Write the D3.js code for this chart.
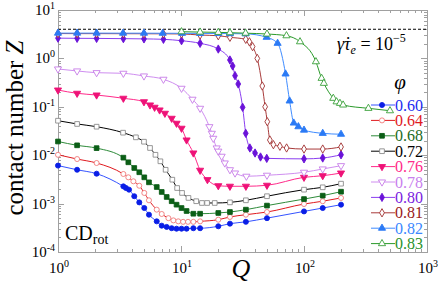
<!DOCTYPE html>
<html>
<head>
<meta charset="utf-8">
<script src="https://cdn.jsdelivr.net/npm/d3@7"></script>
<style>
  body { margin: 0; background: #fff; }
  svg { display: block; }
  text { font-family: "Liberation Serif", "DejaVu Serif", serif; }
</style>
</head>
<body>
<div id="chart"></div>
<script>
// values (Q = shear, Z = contact number)
var phiLabels = ["0.60", "0.64", "0.68", "0.72", "0.76", "0.78", "0.80", "0.81", "0.82", "0.83"];

var q060 = [1, 1.43, 2.06, 3.4, 3.57, 3.78, 4.17, 4.58, 5.03, 5.49, 6.35, 6.97, 7.65, 8.4, 9.2, 10.1, 11.1, 12.6, 14.3, 20.1, 25, 33.7, 50, 100, 142, 200];
var z060 = [0.0061, 0.0050, 0.00415, 0.00227, 0.0021, 0.00194, 0.00142, 0.00106, 0.00081, 0.00059, 0.00043, 0.00035, 0.00033, 0.00031, 0.000303, 0.000303, 0.000303, 0.00031, 0.00031, 0.00034, 0.000385, 0.00042, 0.0005, 0.00069, 0.00081, 0.00095];

var q064 = [1, 1.43, 2.06, 3.4, 3.73, 4.1, 4.58, 5.03, 5.49, 6.35, 6.97, 7.9, 8.67, 9.5, 10.4, 11.4, 12.6, 14.3, 20.1, 25, 33.7, 50, 100, 142, 200];
var z064 = [0.0102, 0.00833, 0.0069, 0.00409, 0.00349, 0.00289, 0.00234, 0.00166, 0.00117, 0.00075, 0.00061, 0.0005, 0.00045, 0.00043, 0.00042, 0.00042, 0.00042, 0.00043, 0.000465, 0.00053, 0.00059, 0.00067, 0.00098, 0.00112, 0.00131];

var q068 = [1, 1.43, 2.06, 3.4, 3.73, 4.17, 4.58, 5.03, 5.49, 6.35, 6.97, 7.65, 8.4, 9.2, 10.1, 11.1, 12.6, 14.3, 20.1, 25, 33.7, 50, 100, 142, 200];
var z068 = [0.0192, 0.016, 0.014, 0.0089, 0.00713, 0.00544, 0.00444, 0.00349, 0.00275, 0.0022, 0.00174, 0.00137, 0.00112, 0.00095, 0.00081, 0.000703, 0.000618, 0.000618, 0.00064, 0.00067, 0.00075, 0.00091, 0.00124, 0.00146, 0.00176];

var q072 = [1, 1.43, 2.06, 3.38, 4.3, 5.0, 5.6, 6.2, 6.8, 7.5, 8.5, 9.3, 10.2, 11.5, 13.3, 14.8, 16.3, 18.8, 25, 33.7, 50, 100, 142, 200];
var z072 = [0.0516, 0.0442, 0.0388, 0.0292, 0.0234, 0.019, 0.0141, 0.0102, 0.00748, 0.0050, 0.00312, 0.0021, 0.00166, 0.00131, 0.00112, 0.00103, 0.00103, 0.00103, 0.00106, 0.00117, 0.00142, 0.00194, 0.00217, 0.00258];

var q076 = [1, 1.43, 2.06, 3.4, 5.0, 5.6, 6.1, 6.7, 7.4, 8.4, 9.2, 10.1, 11.1, 12.6, 14.3, 16.4, 20.1, 25, 33.7, 50, 100, 142, 200];
var z076 = [0.222, 0.19, 0.175, 0.15, 0.127, 0.109, 0.0977, 0.0859, 0.0734, 0.0578, 0.0456, 0.036, 0.0206, 0.0111, 0.00488, 0.00312, 0.00234, 0.00228, 0.00228, 0.00239, 0.00349, 0.00377, 0.00428];

var q078 = [1, 1.43, 2.06, 3.4, 5.0, 7.2, 10.1, 12.4, 14.3, 17.0, 17.8, 18.3, 19.5, 20.1, 21.4, 22.7, 25, 27.5, 34, 50, 100, 142, 200];
var z078 = [0.604, 0.55, 0.507, 0.492, 0.433, 0.37, 0.241, 0.143, 0.093, 0.0388, 0.0283, 0.0223, 0.0141, 0.0121, 0.0095, 0.0069, 0.0050, 0.00428, 0.00367, 0.00385, 0.00444, 0.00519, 0.00607];

var q080 = [1, 1.43, 2.06, 3.4, 5.0, 7.2, 10.1, 14.3, 20.1, 25, 26.3, 27.5, 29.2, 31.7, 33.6, 36.3, 40, 44.3, 49.8, 100, 142, 200];
var z080 = [2.62, 2.6, 2.59, 2.56, 2.53, 2.48, 2.32, 2.05, 1.56, 0.927, 0.697, 0.44, 0.296, 0.0977, 0.0283, 0.0141, 0.0111, 0.00918, 0.0086, 0.0084, 0.00875, 0.0102];

var q081 = [1, 1.43, 2.06, 3.4, 5.0, 7.2, 10.1, 14.3, 20.1, 25, 33.6, 36, 38.2, 41.7, 45.8, 48.3, 50.3, 52.8, 56.4, 63.7, 72.2, 100, 142, 200];
var z081 = [3.26, 3.25, 3.25, 3.24, 3.23, 3.22, 3.2, 3.04, 2.94, 2.73, 2.48, 2.2, 1.75, 1.0, 0.269, 0.1, 0.0492, 0.0206, 0.0165, 0.0153, 0.0141, 0.0134, 0.0134, 0.0148];

var q082 = [1, 1.43, 2.06, 3.38, 5.0, 7.1, 10.2, 14.3, 20.1, 25, 33.5, 49.7, 61, 70.8, 76.4, 82.6, 90, 100, 142, 200];
var z082 = [3.33, 3.33, 3.33, 3.32, 3.32, 3.31, 3.3, 3.28, 3.27, 3.25, 3.22, 2.73, 2.05, 0.477, 0.132, 0.0462, 0.0388, 0.033, 0.0283, 0.0271];

var q083 = [10.1, 14.3, 20.1, 25, 33.5, 50, 72, 92.8, 125, 139, 145, 173, 184, 196, 208, 334, 500];
var z083 = [3.56, 3.5, 3.45, 3.4, 3.32, 3.19, 2.94, 2.21, 0.855, 0.388, 0.306, 0.15, 0.127, 0.118, 0.109, 0.093, 0.083];

var isostaticZ = 4;

var W = 443, H = 286;
var margin = { left: 58, right: 16, top: 10, bottom: 34 };

var x = d3.scaleLog().domain([1, 1000]).range([margin.left, W - margin.right]);
var y = d3.scaleLog().domain([1e-4, 10]).range([H - margin.bottom, margin.top]);

var svg = d3.select("#chart").append("svg")
  .attr("width", W)
  .attr("height", H);

// series styles
var series = [
  { q: q060, z: z060, line: "#3553ff", mark: "#0a1ee6", text: "#1a2cf0", shape: "circle", open: false },
  { q: q064, z: z064, line: "#e0191e", mark: "#f07a7a", text: "#e0191e", shape: "circle", open: true },
  { q: q068, z: z068, line: "#2e8b3a", mark: "#0b5e16", text: "#1b6b24", shape: "square", open: false },
  { q: q072, z: z072, line: "#000000", mark: "#8c8c8c", text: "#000000", shape: "square", open: true },
  { q: q076, z: z076, line: "#ff2a8a", mark: "#ee1277", text: "#ff2a8a", shape: "down", open: false },
  { q: q078, z: z078, line: "#cf8ef0", mark: "#c77de8", text: "#c880ee", shape: "down", open: true },
  { q: q080, z: z080, line: "#8a3ef0", mark: "#6a12d8", text: "#7a22e0", shape: "diamond", open: false },
  { q: q081, z: z081, line: "#a83a3a", mark: "#a03030", text: "#9a2020", shape: "diamond", open: true },
  { q: q082, z: z082, line: "#3f8cff", mark: "#2b7af5", text: "#3a88ff", shape: "up", open: false },
  { q: q083, z: z083, line: "#2a9a2a", mark: "#3aa03a", text: "#2a922a", shape: "up", open: true }
];

function symbolPath(shape) {
  if (shape == "circle") return d3.symbol(d3.symbolCircle, 20)();
  if (shape == "square") return d3.symbol(d3.symbolSquare, 22)();
  if (shape == "diamond") return d3.symbol(d3.symbolDiamond, 20)();
  return d3.symbol(d3.symbolTriangle, 22)();
}
function symbolTransform(shape, px, py) {
  var t = "translate(" + px + "," + py + ")";
  if (shape == "down") t += " rotate(180)";
  return t;
}

// frame + inward ticks on all four sides
var x0 = x.range()[0], x1 = x.range()[1], y0 = y.range()[0], y1 = y.range()[1];
var axisColor = "#a0a0a0";

var ticks = svg.append("g").attr("stroke", axisColor).attr("stroke-width", 1);
var xTicks = [], yTicks = [];
for (var d = 0; d <= 3; d++) for (var m = 1; m <= 9; m++) {
  var v = m * Math.pow(10, d);
  if (v <= 1000) xTicks.push({ v: v, major: m == 1 });
}
for (var d = -4; d <= 1; d++) for (var m = 1; m <= 9; m++) {
  var v = m * Math.pow(10, d);
  if (v <= 10 + 1e-9) yTicks.push({ v: v, major: m == 1 });
}
xTicks.forEach(function(t) {
  var px = Math.round(x(t.v)) + 0.5, len = t.major ? 6 : 3;
  ticks.append("line").attr("x1", px).attr("x2", px).attr("y1", y0).attr("y2", y0 - len);
  ticks.append("line").attr("x1", px).attr("x2", px).attr("y1", y1).attr("y2", y1 + len);
});
yTicks.forEach(function(t) {
  var py = Math.round(y(t.v)) + 0.5, len = t.major ? 6 : 3;
  ticks.append("line").attr("x1", x0).attr("x2", x0 + len).attr("y1", py).attr("y2", py);
  ticks.append("line").attr("x1", x1).attr("x2", x1 - len).attr("y1", py).attr("y2", py);
});
svg.append("rect")
  .attr("x", x0 + 0.5).attr("y", y1 + 0.5)
  .attr("width", x1 - x0).attr("height", y0 - y1)
  .attr("fill", "none").attr("stroke", axisColor);

// tick labels
function powLabel(sel, exp) {
  sel.append("tspan").text("10");
  sel.append("tspan").attr("dy", -6).attr("font-size", 10).text(exp);
}
xTicks.filter(function(t) { return t.major; }).forEach(function(t) {
  var lab = svg.append("text")
    .attr("x", x(t.v) + 1).attr("y", y0 + 21)
    .attr("text-anchor", "middle").attr("font-size", 15).attr("fill", "#000");
  powLabel(lab, String(Math.round(Math.log10(t.v))));
});
yTicks.filter(function(t) { return t.major; }).forEach(function(t) {
  var lab = svg.append("text")
    .attr("x", x0 - 3).attr("y", y(t.v) + 5)
    .attr("text-anchor", "end").attr("font-size", 15).attr("fill", "#000");
  var e = Math.round(Math.log10(t.v));
  powLabel(lab, e < 0 ? "-" + (-e) : String(e));
});

// isostatic value
svg.append("line")
  .attr("x1", x0).attr("x2", x1)
  .attr("y1", y(isostaticZ)).attr("y2", y(isostaticZ))
  .attr("stroke", "#000").attr("stroke-width", 1)
  .attr("stroke-dasharray", "3,2");

// curves
var line = d3.line()
  .x(function(d) { return x(d[0]); })
  .y(function(d) { return y(d[1]); })
  .curve(d3.curveMonotoneX);

var plot = svg.append("g");
series.forEach(function(s) {
  var pts = s.q.map(function(q, i) { return [q, s.z[i]]; });
  s.pts = pts;
  plot.append("path")
    .attr("d", line(pts))
    .attr("fill", "none")
    .attr("stroke", s.line)
    .attr("stroke-width", 1);
});
series.forEach(function(s) {
  plot.append("g").selectAll("path")
    .data(s.pts)
    .enter()
    .append("path")
    .attr("d", symbolPath(s.shape))
    .attr("transform", function(d) { return symbolTransform(s.shape, x(d[0]), y(d[1])); })
    .attr("fill", s.open ? "#fff" : s.mark)
    .attr("stroke", s.mark)
    .attr("stroke-width", 0.9);
});

// legend
var lg = svg.append("g");
lg.append("text")
  .attr("x", 400).attr("y", 89)
  .attr("text-anchor", "middle").attr("font-size", 21)
  .attr("font-style", "italic").text("φ");
series.forEach(function(s, i) {
  var ly = 105 + i * 15.4;
  lg.append("line")
    .attr("x1", 371).attr("x2", 395).attr("y1", ly).attr("y2", ly)
    .attr("stroke", s.line).attr("stroke-width", 1);
  lg.append("path")
    .attr("d", symbolPath(s.shape))
    .attr("transform", symbolTransform(s.shape, 382, ly))
    .attr("fill", s.open ? "#fff" : s.mark)
    .attr("stroke", s.mark)
    .attr("stroke-width", 0.9);
  lg.append("text")
    .attr("x", 395).attr("y", ly + 5.5)
    .attr("font-size", 16).attr("fill", s.text)
    .text(phiLabels[i]);
});

// shear rate note
var note = svg.append("text").attr("x", 337).attr("y", 50).attr("font-size", 18);
note.append("tspan").attr("font-style", "italic").text("γ\u0307τ");
note.append("tspan").attr("font-style", "italic").attr("font-size", 12).attr("dy", 4).text("e");
note.append("tspan").attr("dy", -4).text(" = 10");
note.append("tspan").attr("dy", -8).attr("font-size", 12).text("−5");

// protocol tag
var tag = svg.append("text").attr("x", 65).attr("y", 240).attr("font-size", 20);
tag.append("tspan").text("CD");
tag.append("tspan").attr("font-size", 14).attr("dy", 4).text("rot");

// axis titles
svg.append("text")
  .attr("x", 241).attr("y", 277)
  .attr("text-anchor", "middle").attr("font-size", 26)
  .attr("font-style", "italic").text("Q");

var yl = svg.append("text")
  .attr("transform", "translate(23,128) rotate(-90)")
  .attr("text-anchor", "middle").attr("font-size", 25);
yl.append("tspan").text("contact number ");
yl.append("tspan").attr("font-style", "italic").text("Z");
</script>
</body>
</html>
